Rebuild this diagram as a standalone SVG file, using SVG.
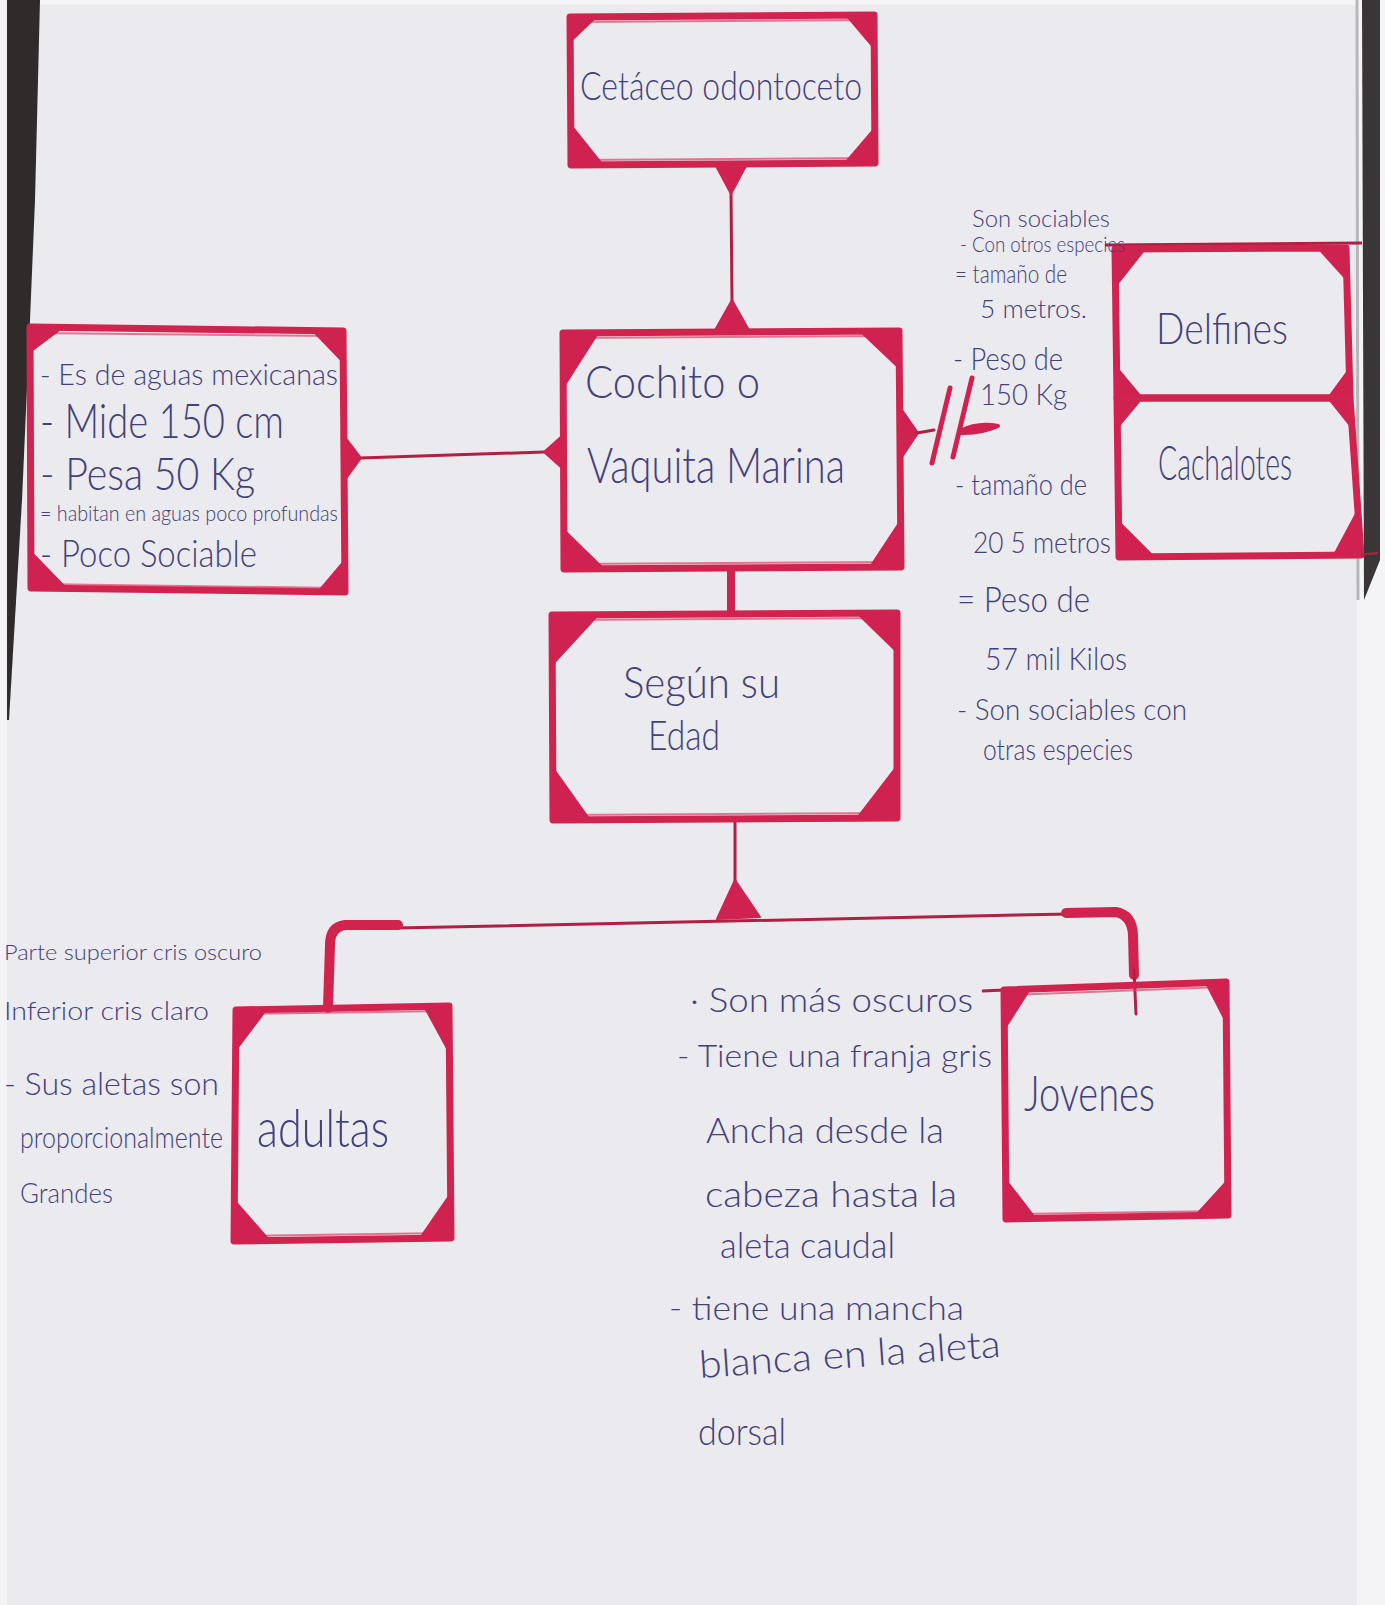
<svg xmlns="http://www.w3.org/2000/svg" width="1385" height="1605" viewBox="0 0 1385 1605">
<style>
.box{fill:none;stroke:#d0234e;stroke-width:7;stroke-linejoin:round;stroke-linecap:round}
.box2{fill:none;stroke:#e0406a;stroke-width:2;opacity:.7}
.corner{fill:#cf2250;stroke:#cf2250;stroke-width:2;stroke-linejoin:round}
.conn{fill:none;stroke:#b21f43;stroke-width:3;stroke-linecap:round}
.thick{fill:none;stroke:#d0234e;stroke-width:10;stroke-linecap:round;stroke-linejoin:round}
.ink{font-family:Lato,"Liberation Sans",sans-serif;font-weight:300;fill:#42417a}
</style>
<!-- paper / photo background -->
<rect x="0" y="0" width="1385" height="1605" fill="#f4f4f6"/>
<rect x="7" y="5" width="1350" height="1600" fill="#ebeaee"/>
<polygon points="7,0 40,0 35,200 30,320 22,500 9,720 7,720" fill="#2f2b2b"/>
<polygon points="1362,0 1380,0 1380,560 1364,600" fill="#3a3536"/>
<line x1="1357" y1="0" x2="1358" y2="600" stroke="#b9b6bb" stroke-width="3"/>

<!-- connectors -->
<g id="connectors">
  <line class="conn" x1="731" y1="190" x2="732" y2="302"/>
  <polygon class="corner" points="715,164 747,164 731,194"/>
  <polygon class="corner" points="732,300 714,332 750,332"/>
  <line class="conn" x1="360" y1="458" x2="544" y2="452"/>
  <polygon class="corner" points="345,437 345,480 361,458"/>
  <polygon class="corner" points="544,452 563,435 563,469"/>
  <polygon class="corner" points="900,407 900,460 918,433"/>
  <line class="conn" x1="917" y1="433" x2="934" y2="430" stroke-width="4"/>
  <line x1="950" y1="388" x2="932" y2="463" stroke="#cf2250" stroke-width="5" stroke-linecap="round"/>
  <line x1="972" y1="378" x2="953" y2="457" stroke="#cf2250" stroke-width="5" stroke-linecap="round"/>
  <path d="M960 431 Q978 422 998 426 Q980 434 960 433 Z" fill="#cf2250" stroke="#cf2250" stroke-width="4" stroke-linejoin="round"/>
  <line x1="731" y1="568" x2="731" y2="614" stroke="#cf2250" stroke-width="8"/>
  <line class="conn" x1="735" y1="818" x2="735" y2="884"/>
  <polygon class="corner" points="735,880 717,919 760,917"/>
  <line class="conn" x1="396" y1="928" x2="1070" y2="914" stroke-width="4"/>
  <path class="thick" d="M398 925 L345 925 Q330 927 330 945 L328 1008"/>
  <path class="thick" d="M1066 913 L1116 912 Q1132 915 1133 935 L1134 975" stroke-width="9"/>
  <line class="conn" x1="1134" y1="970" x2="1136" y2="1014"/>
</g>

<g id="node-cetaceo">
  <path class="box" d="M570 17 L874 15 L875 163 L571 165 Z"/>
  <path class="box2" d="M572 22 L870 20 M577 160 L872 158"/>
  <polygon class="corner" points="570,17 596,17 570,42"/>
  <polygon class="corner" points="874,15 846,15 874,48"/>
  <polygon class="corner" points="571,165 571,125 603,165"/>
  <polygon class="corner" points="875,163 875,128 845,163"/>
  <text class="ink" x="580" y="100" font-size="40" textLength="282" lengthAdjust="spacingAndGlyphs">Cetáceo odontoceto</text>
</g>

<g id="node-caracteristicas">
  <path class="box" d="M30 327 L343 331 L345 592 L31 588 Z"/>
  <path class="box2" d="M33 333 L338 336 M35 584 L340 588"/>
  <polygon class="corner" points="30,327 62,328 30,352"/>
  <polygon class="corner" points="343,331 313,331 343,362"/>
  <polygon class="corner" points="31,588 31,552 66,588"/>
  <polygon class="corner" points="345,592 345,560 318,592"/>
  <text class="ink" x="40" y="385" font-size="30" textLength="298" lengthAdjust="spacingAndGlyphs">- Es de aguas mexicanas</text>
  <text class="ink" x="40" y="438" font-size="48" textLength="244" lengthAdjust="spacingAndGlyphs">- Mide 150 cm</text>
  <text class="ink" x="40" y="490" font-size="46" textLength="215" lengthAdjust="spacingAndGlyphs">- Pesa 50 Kg</text>
  <text class="ink" x="40" y="521" font-size="22" textLength="298" lengthAdjust="spacingAndGlyphs">= habitan en aguas poco profundas</text>
  <text class="ink" x="40" y="567" font-size="38" textLength="217" lengthAdjust="spacingAndGlyphs">- Poco Sociable</text>
</g>

<g id="node-vaquita">
  <path class="box" d="M563 333 L899 331 L901 567 L564 569 Z"/>
  <path class="box2" d="M566 338 L895 336 M568 564 L897 562"/>
  <polygon class="corner" points="563,333 598,333 563,388"/>
  <polygon class="corner" points="899,331 860,331 899,368"/>
  <polygon class="corner" points="564,569 564,530 604,569"/>
  <polygon class="corner" points="901,567 901,520 870,567"/>
  <text class="ink" x="585" y="398" font-size="46" textLength="175" lengthAdjust="spacingAndGlyphs">Cochito o</text>
  <text class="ink" x="587" y="483" font-size="50" textLength="258" lengthAdjust="spacingAndGlyphs">Vaquita Marina</text>
</g>

<g id="node-edad">
  <path class="box" d="M552 615 L897 613 L897 818 L553 820 Z"/>
  <path class="box2" d="M556 620 L893 618 M557 815 L893 813"/>
  <polygon class="corner" points="552,615 598,615 552,665"/>
  <polygon class="corner" points="897,613 857,613 897,652"/>
  <polygon class="corner" points="553,820 553,768 590,820"/>
  <polygon class="corner" points="897,818 897,766 857,818"/>
  <text class="ink" x="623" y="698" font-size="44" textLength="157" lengthAdjust="spacingAndGlyphs">Según su</text>
  <text class="ink" x="648" y="750" font-size="42" textLength="72" lengthAdjust="spacingAndGlyphs">Edad</text>
</g>

<g id="node-delfines">
  <line x1="1105" y1="245" x2="1362" y2="243" stroke="#b21f43" stroke-width="3"/>
  <path class="box" d="M1115 249 L1346 248 L1350 398 L1117 398 Z"/>
  <polygon class="corner" points="1115,249 1145,249 1115,287"/>
  <polygon class="corner" points="1346,248 1318,248 1347,280"/>
  <polygon class="corner" points="1117,368 1117,428 1142,398"/>
  <polygon class="corner" points="1350,368 1352,428 1328,398"/>
  <text class="ink" x="1156" y="344" font-size="44" textLength="132" lengthAdjust="spacingAndGlyphs">Delfines</text>
</g>
<g id="node-cachalotes">
  <path class="box" d="M1117 398 L1350 398 L1361 555 L1119 557 Z"/>
  <line x1="1355" y1="555" x2="1378" y2="553" stroke="#b21f43" stroke-width="2"/>
  <polygon class="corner" points="1119,557 1119,522 1154,557"/>
  <polygon class="corner" points="1361,555 1358,510 1334,555"/>
  <text class="ink" x="1158" y="480" font-size="48" textLength="134" lengthAdjust="spacingAndGlyphs">Cachalotes</text>
</g>

<g id="node-adultas">
  <path class="box" d="M236 1010 L449 1006 L451 1238 L234 1241 Z"/>
  <path class="box2" d="M240 1014 L445 1011 M238 1236 L447 1233"/>
  <polygon class="corner" points="236,1010 266,1010 236,1050"/>
  <polygon class="corner" points="449,1006 424,1006 449,1052"/>
  <polygon class="corner" points="234,1241 234,1200 270,1241"/>
  <polygon class="corner" points="451,1238 451,1193 420,1238"/>
  <text class="ink" x="257" y="1147" font-size="54" textLength="132" lengthAdjust="spacingAndGlyphs">adultas</text>
</g>

<g id="node-jovenes">
  <line x1="982" y1="991" x2="1005" y2="990" stroke="#b21f43" stroke-width="3"/>
  <path class="box" d="M1004 990 L1226 982 L1228 1215 L1006 1219 Z"/>
  <path class="box2" d="M1008 995 L1222 987 M1010 1214 L1224 1211"/>
  <polygon class="corner" points="1004,990 1030,989 1004,1030"/>
  <polygon class="corner" points="1226,982 1206,983 1226,1022"/>
  <polygon class="corner" points="1006,1219 1006,1180 1036,1219"/>
  <polygon class="corner" points="1228,1215 1228,1180 1196,1215"/>
  <text class="ink" x="1024" y="1111" font-size="50" textLength="131" lengthAdjust="spacingAndGlyphs">Jovenes</text>
</g>

<g id="notes-delfines">
  <text class="ink" x="972" y="227" font-size="24" textLength="138" lengthAdjust="spacingAndGlyphs">Son sociables</text>
  <text class="ink" x="960" y="252" font-size="22" textLength="165" lengthAdjust="spacingAndGlyphs">- Con otros especies</text>
  <text class="ink" x="955" y="283" font-size="26" textLength="112" lengthAdjust="spacingAndGlyphs">= tamaño de</text>
  <text class="ink" x="980" y="318" font-size="26" textLength="107" lengthAdjust="spacingAndGlyphs">5 metros.</text>
  <text class="ink" x="953" y="370" font-size="32" textLength="110" lengthAdjust="spacingAndGlyphs">- Peso de</text>
  <text class="ink" x="980" y="405" font-size="30" textLength="87" lengthAdjust="spacingAndGlyphs">150 Kg</text>
</g>
<g id="notes-cachalotes">
  <text class="ink" x="955" y="495" font-size="30" textLength="132" lengthAdjust="spacingAndGlyphs">- tamaño de</text>
  <text class="ink" x="973" y="553" font-size="30" textLength="138" lengthAdjust="spacingAndGlyphs">20 5 metros</text>
  <text class="ink" x="957" y="612" font-size="36" textLength="133" lengthAdjust="spacingAndGlyphs">= Peso de</text>
  <text class="ink" x="985" y="670" font-size="32" textLength="142" lengthAdjust="spacingAndGlyphs">57 mil Kilos</text>
  <text class="ink" x="957" y="720" font-size="30" textLength="230" lengthAdjust="spacingAndGlyphs">- Son sociables con</text>
  <text class="ink" x="983" y="760" font-size="30" textLength="150" lengthAdjust="spacingAndGlyphs">otras especies</text>
</g>
<g id="notes-adultas">
  <text class="ink" x="4" y="960" font-size="22" textLength="258" lengthAdjust="spacingAndGlyphs">Parte superior cris oscuro</text>
  <text class="ink" x="4" y="1020" font-size="26" textLength="205" lengthAdjust="spacingAndGlyphs">Inferior cris claro</text>
  <text class="ink" x="4" y="1095" font-size="32" textLength="215" lengthAdjust="spacingAndGlyphs">- Sus aletas son</text>
  <text class="ink" x="20" y="1148" font-size="30" textLength="203" lengthAdjust="spacingAndGlyphs">proporcionalmente</text>
  <text class="ink" x="20" y="1203" font-size="28" textLength="93" lengthAdjust="spacingAndGlyphs">Grandes</text>
</g>
<g id="notes-jovenes">
  <text class="ink" x="690" y="1012" font-size="34" textLength="283" lengthAdjust="spacingAndGlyphs">· Son más oscuros</text>
  <text class="ink" x="677" y="1067" font-size="32" textLength="315" lengthAdjust="spacingAndGlyphs">- Tiene una franja gris</text>
  <text class="ink" x="706" y="1143" font-size="36" textLength="238" lengthAdjust="spacingAndGlyphs">Ancha desde la</text>
  <text class="ink" x="705" y="1207" font-size="36" textLength="252" lengthAdjust="spacingAndGlyphs">cabeza hasta la</text>
  <text class="ink" x="720" y="1258" font-size="36" textLength="175" lengthAdjust="spacingAndGlyphs">aleta caudal</text>
  <text class="ink" x="669" y="1320" font-size="34" textLength="295" lengthAdjust="spacingAndGlyphs">- tiene una mancha</text>
  <text class="ink" x="700" y="1378" font-size="38" textLength="302" lengthAdjust="spacingAndGlyphs" transform="rotate(-4 700 1378)">blanca en la aleta</text>
  <text class="ink" x="698" y="1445" font-size="38" textLength="88" lengthAdjust="spacingAndGlyphs">dorsal</text>
</g>
</svg>
